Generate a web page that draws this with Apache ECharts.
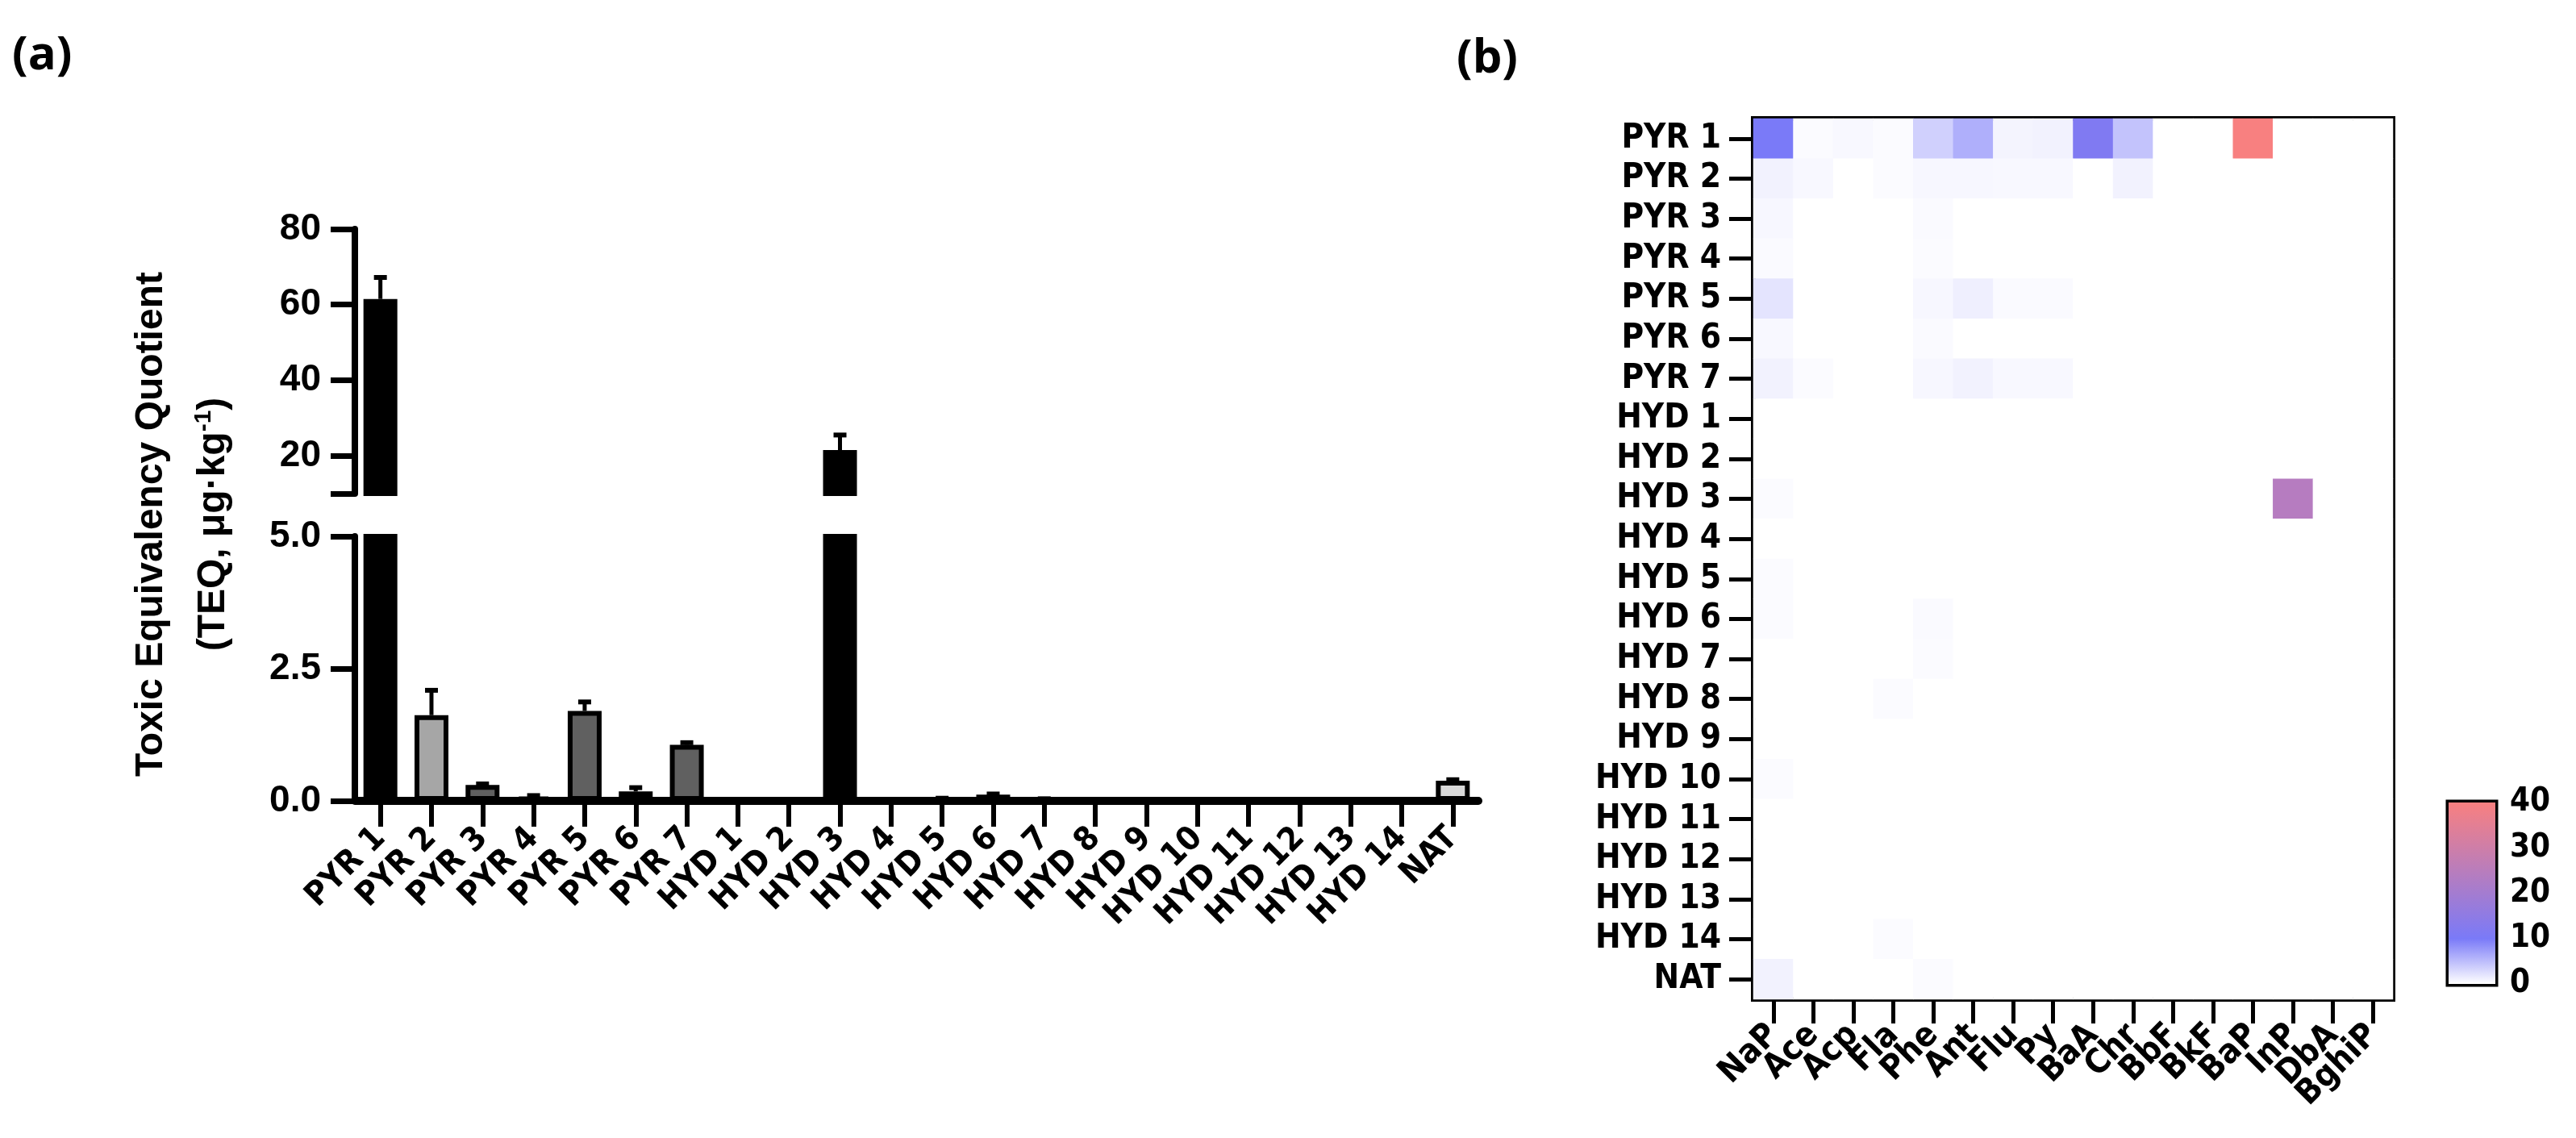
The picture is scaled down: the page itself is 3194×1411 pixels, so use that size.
<!DOCTYPE html>
<html><head><meta charset="utf-8">
<script src="https://cdn.jsdelivr.net/npm/echarts@6/dist/echarts.min.js"></script>
<style>html,body{margin:0;padding:0;background:#fff}#c{width:3194px;height:1411px}</style>
</head><body><div id="c"></div>
<script>
const samples = ['PYR 1','PYR 2','PYR 3','PYR 4','PYR 5','PYR 6','PYR 7','HYD 1','HYD 2','HYD 3','HYD 4','HYD 5','HYD 6','HYD 7','HYD 8','HYD 9','HYD 10','HYD 11','HYD 12','HYD 13','HYD 14','NAT'];
const teqMean = [61.5,1.62,0.3,0.08,1.7,0.18,1.06,0,0,21.5,0,0.04,0.12,0.03,0,0,0,0,0,0,0.02,0.38];
const teqUpper = [67.2,2.09,0.32,0.1,1.87,0.25,1.1,0,0,25.5,0,0.05,0.13,0.04,0,0,0,0,0,0,0.03,0.4];
const barColors = ['#000000','#a6a6a6','#606060','#606060','#606060','#606060','#606060','#000','#000','#000000','#000','#000','#000','#000','#000','#000','#000','#000','#000','#000','#000','#d9d9d9'];
const topTicks = [10,20,40,60,80];
const topLabels = [20,40,60,80];
const pahs = ['NaP','Ace','Acp','Fla','Phe','Ant','Flu','Py','BaA','Chr','BbF','BkF','BaP','InP','DbA','BghiP'];
const heat = [
 [10,0.3,0.5,0.3,3.5,6,0.8,1,11.5,4.5,0,0,40,0,0,0],
 [1,0.5,0,0.3,0.6,0.6,0.5,0.5,0,1,0,0,0,0,0,0],
 [0.6,0,0,0,0.4,0,0,0,0,0,0,0,0,0,0,0],
 [0.4,0,0,0,0.3,0,0,0,0,0,0,0,0,0,0,0],
 [2,0,0,0,0.6,1.2,0.4,0.4,0,0,0,0,0,0,0,0],
 [0.5,0,0,0,0.4,0,0,0,0,0,0,0,0,0,0,0],
 [1,0.3,0,0,0.6,1,0.5,0.5,0,0,0,0,0,0,0,0],
 [0,0,0,0,0,0,0,0,0,0,0,0,0,0,0,0],
 [0,0,0,0,0,0,0,0,0,0,0,0,0,0,0,0],
 [0.3,0,0,0,0,0,0,0,0,0,0,0,0,24,0,0],
 [0,0,0,0,0,0,0,0,0,0,0,0,0,0,0,0],
 [0.3,0,0,0,0,0,0,0,0,0,0,0,0,0,0,0],
 [0.3,0,0,0,0.4,0,0,0,0,0,0,0,0,0,0,0],
 [0,0,0,0,0.3,0,0,0,0,0,0,0,0,0,0,0],
 [0,0,0,0.3,0,0,0,0,0,0,0,0,0,0,0,0],
 [0,0,0,0,0,0,0,0,0,0,0,0,0,0,0,0],
 [0.3,0,0,0,0,0,0,0,0,0,0,0,0,0,0,0],
 [0,0,0,0,0,0,0,0,0,0,0,0,0,0,0,0],
 [0,0,0,0,0,0,0,0,0,0,0,0,0,0,0,0],
 [0,0,0,0,0,0,0,0,0,0,0,0,0,0,0,0],
 [0,0,0,0.3,0,0,0,0,0,0,0,0,0,0,0,0],
 [1,0,0,0,0.3,0,0,0,0,0,0,0,0,0,0,0]
];
const colorStops = ['#ffffff','#7a7af8','#f88080'];
const cbarTicks = [0,10,20,30,40];

const sans = 'Liberation Sans, Arial, sans-serif';
const narrow = '"DejaVu Sans Condensed", "Liberation Sans Narrow", sans-serif';
const heatData = [];
heat.forEach((row,i)=>row.forEach((v,j)=>heatData.push([j,i,v])));

function errItem(params, api){
  const x = api.value(0), hi = api.value(2), m = api.value(1);
  const p0 = api.coord([x,m]), p1 = api.coord([x,hi]);
  const cw = 8;
  return {type:'group', children:[
    {type:'line', shape:{x1:p0[0],y1:p0[1],x2:p1[0],y2:p1[1]}, style:{stroke:'#000',lineWidth:5}},
    {type:'line', shape:{x1:p1[0]-cw,y1:p1[1],x2:p1[0]+cw,y2:p1[1]}, style:{stroke:'#000',lineWidth:6}}
  ]};
}
const errTop = [], errBot = [];
teqMean.forEach((m,i)=>{ if(teqUpper[i]>m){ (m>10?errTop:errBot).push([i,m,teqUpper[i]]); } });

const axisBold = {color:'#000', fontWeight:'bold', fontFamily:sans, fontSize:46};
const chart = echarts.init(document.getElementById('c'));
chart.setOption({
  animation:false,
  grid:[
    {left:440, top:284, width:1393, height:328},
    {left:440, top:665, width:1393, height:328},
    {left:2174, top:147, width:793, height:1092, show:true, borderColor:'#000', borderWidth:6, backgroundColor:'transparent'},
    {left:3036, top:995, width:58, height:225, show:true, borderColor:'#000', borderWidth:7}
  ],
  xAxis:[
    {gridIndex:0, type:'category', data:samples, show:false},
    {gridIndex:1, type:'category', data:samples,
     axisLine:{show:true, lineStyle:{color:'#000',width:10}},
     axisTick:{show:true, alignWithLabel:true, length:32, lineStyle:{width:6,color:'#000'}},
     axisLabel:{rotate:45, interval:0, color:'#000', fontWeight:'bold', fontFamily:narrow, fontSize:41, margin:40}},
    {gridIndex:2, type:'category', data:pahs,
     axisLine:{show:true, lineStyle:{color:'#000',width:6}},
     axisTick:{show:true, alignWithLabel:true, length:30, lineStyle:{width:5,color:'#000'}},
     axisLabel:{rotate:45, interval:0, color:'#000', fontWeight:'bold', fontFamily:narrow, fontSize:42, margin:38}},
    {gridIndex:3, type:'category', data:['c'], show:false}
  ],
  yAxis:[
    {gridIndex:0, type:'value', min:10, max:80, splitLine:{show:false},
     axisLine:{show:true, lineStyle:{color:'#000',width:8}},
     axisTick:{show:true, customValues:topTicks, length:30, lineStyle:{width:7,color:'#000'}},
     axisLabel:Object.assign({customValues:topLabels, margin:42}, axisBold)},
    {gridIndex:1, type:'value', min:0, max:5, interval:2.5, splitLine:{show:false},
     axisLine:{show:true, lineStyle:{color:'#000',width:8}},
     axisTick:{show:true, length:30, lineStyle:{width:7,color:'#000'}},
     axisLabel:Object.assign({margin:42, formatter:v=>v.toFixed(1)}, axisBold)},
    {gridIndex:2, type:'category', data:samples, inverse:true,
     axisLine:{show:true, lineStyle:{color:'#000',width:6}},
     axisTick:{show:true, alignWithLabel:true, length:30, lineStyle:{width:5,color:'#000'}},
     axisLabel:{interval:0, color:'#000', fontWeight:'bold', fontFamily:narrow, fontSize:42, margin:40}},
    {gridIndex:3, type:'value', min:0, max:40, interval:10, position:'right', splitLine:{show:false},
     axisLine:{show:false}, axisTick:{show:true, inside:true, length:14, lineStyle:{width:6,color:'#000'}},
     axisLabel:{color:'#000', fontWeight:'bold', fontFamily:narrow, fontSize:40, margin:18,
       customValues:cbarTicks}},
    {gridIndex:3, type:'value', min:0, max:40, interval:10, position:'left', splitLine:{show:false},
     axisLine:{show:false}, axisTick:{show:true, inside:true, length:14, lineStyle:{width:6,color:'#000'}},
     axisLabel:{show:false}}
  ],
  visualMap:{show:false, type:'continuous', min:0, max:40, seriesIndex:4,
    inRange:{color:[colorStops[0],colorStops[1],'#a57cd0','#cf7da8',colorStops[2]]}},
  series:[
    {type:'bar', xAxisIndex:0, yAxisIndex:0, barWidth:42,
     data:teqMean.map((v,i)=>({value: v>10? v : null, itemStyle:{color:barColors[i], borderColor:'#000', borderWidth:6}}))},
    {type:'bar', xAxisIndex:1, yAxisIndex:1, barWidth:42,
     data:teqMean.map((v,i)=>({value:v, itemStyle:{color:barColors[i], borderColor:'#000', borderWidth: v>0?6:0}}))},
    {type:'custom', xAxisIndex:0, yAxisIndex:0, renderItem:errItem, data:errTop, z:5},
    {type:'custom', xAxisIndex:1, yAxisIndex:1, renderItem:errItem, data:errBot, z:5},
    {type:'heatmap', xAxisIndex:2, yAxisIndex:2, data:heatData, emphasis:{disabled:true}},
    {type:'bar', xAxisIndex:3, yAxisIndex:3, barWidth:'100%', silent:true, z:1,
     data:[{value:40, itemStyle:{color:new echarts.graphic.LinearGradient(0,1,0,0,[
       {offset:0,color:colorStops[0]},{offset:0.25,color:colorStops[1]},{offset:1,color:colorStops[2]}])}}]}
  ],
  graphic:[
    {type:'text', left:15, top:40, style:{text:'(a)', font:'bold 58px "Open Sans", sans-serif', fill:'#000'}},
    {type:'text', left:1806, top:44, style:{text:'(b)', font:'bold 58px "Open Sans", sans-serif', fill:'#000'}},
    {type:'text', x:188, y:650, rotation:Math.PI/2,
     style:{text:'Toxic Equivalency Quotient', font:'bold 48px '+sans, fill:'#000', align:'center', verticalAlign:'middle'}},
    {type:'text', x:265, y:650, rotation:Math.PI/2,
     style:{text:'(TEQ, μg·kg{s|-1})', font:'bold 48px '+sans, fill:'#000', align:'center', verticalAlign:'middle',
       rich:{s:{font:'bold 30px '+sans, verticalAlign:'top', padding:[0,0,24,0], fill:'#000'}}}}
  ]
});
</script></body></html>
